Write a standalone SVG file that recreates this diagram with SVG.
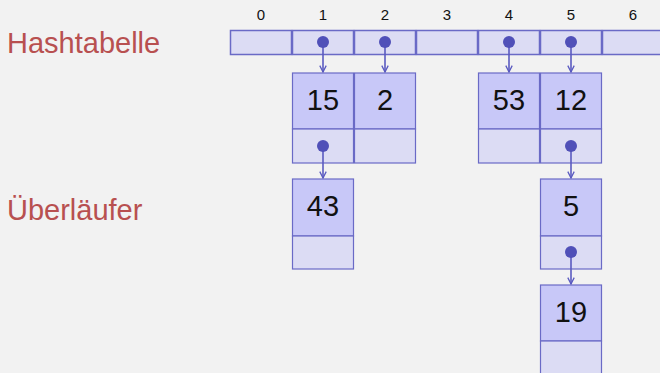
<svg xmlns="http://www.w3.org/2000/svg" width="660" height="373" viewBox="0 0 660 373">
<defs>
<style>
.bg{fill:#f2f2f2}
.cell{fill:#dcdcf4;stroke:#6a6ac6;stroke-width:1.5}
.val{fill:#c8c8f8;stroke:#6a6ac6;stroke-width:1.2}
.ptr{fill:#dcdcf4;stroke:#6a6ac6;stroke-width:1.2}
.idx{font-family:"Liberation Sans",Arial,sans-serif;font-size:15px;fill:#111;text-anchor:middle}
.num{font-family:"Liberation Sans",Arial,sans-serif;font-size:29px;fill:#111;text-anchor:middle}
.lbl{font-family:"Liberation Sans",Arial,sans-serif;font-size:29px;fill:#b85050}
.dot{fill:#5050b8}
.con{stroke:#5a5ac0;stroke-width:1.6;fill:none}
</style>
<marker id="ah" viewBox="0 0 10 10" refX="9" refY="5" markerWidth="8" markerHeight="8" markerUnits="userSpaceOnUse" orient="auto">
<path d="M1,1 L9,5 L1,9" fill="none" stroke="#5a5ac0" stroke-width="1.6"/>
</marker>
</defs>
<rect class="bg" x="0" y="0" width="660" height="373"/>
<text class="lbl" x="7" y="53">Hashtabelle</text>
<text class="lbl" x="7" y="220">Überläufer</text>
<g id="table">
<rect class="cell" x="230.5" y="30.5" width="61" height="24"/>
<rect class="cell" x="292.5" y="30.5" width="61" height="24"/>
<rect class="cell" x="354.5" y="30.5" width="61" height="24"/>
<rect class="cell" x="416.5" y="30.5" width="61" height="24"/>
<rect class="cell" x="478.5" y="30.5" width="61" height="24"/>
<rect class="cell" x="540.5" y="30.5" width="61" height="24"/>
<rect class="cell" x="602.5" y="30.5" width="61" height="24"/>
<text class="idx" x="261" y="20">0</text>
<text class="idx" x="323" y="20">1</text>
<text class="idx" x="385" y="20">2</text>
<text class="idx" x="447" y="20">3</text>
<text class="idx" x="509" y="20">4</text>
<text class="idx" x="571" y="20">5</text>
<text class="idx" x="633" y="20">6</text>
</g>
<g id="n15">
<rect class="val" x="292.5" y="73" width="61" height="56"/>
<rect class="ptr" x="292.5" y="129" width="61" height="34"/>
<text class="num" x="323" y="110">15</text>
</g>
<g id="n2">
<rect class="val" x="354.5" y="73" width="61" height="56"/>
<rect class="ptr" x="354.5" y="129" width="61" height="34"/>
<text class="num" x="385" y="110">2</text>
</g>
<g id="n53">
<rect class="val" x="478.5" y="73" width="61" height="56"/>
<rect class="ptr" x="478.5" y="129" width="61" height="34"/>
<text class="num" x="509" y="110">53</text>
</g>
<g id="n12">
<rect class="val" x="540.5" y="73" width="61" height="56"/>
<rect class="ptr" x="540.5" y="129" width="61" height="34"/>
<text class="num" x="571" y="110">12</text>
</g>
<g id="n43">
<rect class="val" x="292.5" y="179" width="61" height="57"/>
<rect class="ptr" x="292.5" y="236" width="61" height="33"/>
<text class="num" x="323" y="216">43</text>
</g>
<g id="n5">
<rect class="val" x="540.5" y="179" width="61" height="57"/>
<rect class="ptr" x="540.5" y="236" width="61" height="33"/>
<text class="num" x="571" y="216">5</text>
</g>
<g id="n19">
<rect class="val" x="540.5" y="285" width="61" height="56"/>
<rect class="ptr" x="540.5" y="341" width="61" height="34"/>
<text class="num" x="571" y="322">19</text>
</g>
<g id="connectors">
<line class="con" x1="323" y1="42" x2="323" y2="72" marker-end="url(#ah)"/>
<line class="con" x1="385" y1="42" x2="385" y2="72" marker-end="url(#ah)"/>
<line class="con" x1="509" y1="42" x2="509" y2="72" marker-end="url(#ah)"/>
<line class="con" x1="571" y1="42" x2="571" y2="72" marker-end="url(#ah)"/>
<line class="con" x1="323" y1="146" x2="323" y2="178" marker-end="url(#ah)"/>
<line class="con" x1="571" y1="146" x2="571" y2="178" marker-end="url(#ah)"/>
<line class="con" x1="571" y1="252" x2="571" y2="284" marker-end="url(#ah)"/>
<circle class="dot" cx="323" cy="42" r="6"/>
<circle class="dot" cx="385" cy="42" r="6"/>
<circle class="dot" cx="509" cy="42" r="6"/>
<circle class="dot" cx="571" cy="42" r="6"/>
<circle class="dot" cx="323" cy="146" r="6"/>
<circle class="dot" cx="571" cy="146" r="6"/>
<circle class="dot" cx="571" cy="252" r="6"/>
</g>
</svg>
